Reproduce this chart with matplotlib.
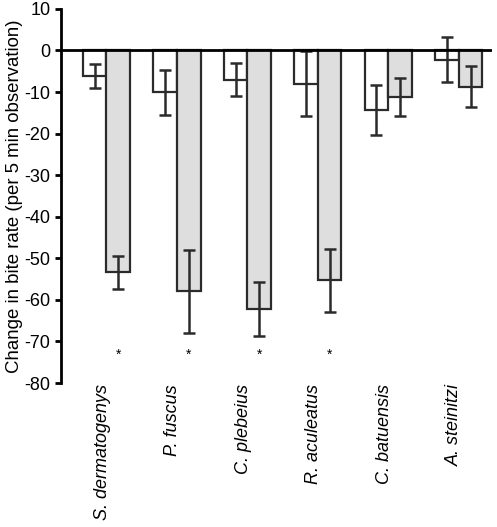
import matplotlib
matplotlib.use("Agg")
import matplotlib.pyplot as plt
import numpy as np

species = ["S. dermatogenys", "P. fuscus", "C. plebeius", "R. aculeatus", "C. batuensis", "A. steinitzi"]
white_vals = [-6.2, -10.1, -7.0, -8.0, -14.4, -2.2]
white_err = [2.9, 5.4, 4.0, 7.8, 6.0, 5.4]
gray_vals = [-53.4, -57.9, -62.1, -55.3, -11.2, -8.7]
gray_err = [4.0, 10.0, 6.5, 7.5, 4.6, 5.0]
signif = [True, True, True, True, False, False]
yticks = list(range(-80, 11, 10))

plt.rcParams['font.family'] = ['Liberation Sans', 'DejaVu Sans']

fig = plt.figure(figsize=(4.97, 5.27), dpi=100)
ax = fig.add_axes([0.1227, 0.2732, 0.867, 0.71])

x = np.arange(len(species))
w = 0.335
edge = '#2b2b2b'
ax.bar(x - w/2, white_vals, w, color='white', edgecolor=edge, linewidth=1.6, zorder=2)
ax.bar(x + w/2, gray_vals, w, color='#dedede', edgecolor=edge, linewidth=1.6, zorder=2)
ax.errorbar(x - w/2, white_vals, yerr=white_err, fmt='none', ecolor=edge, elinewidth=1.8, capsize=4, capthick=1.8, zorder=3)
ax.errorbar(x + w/2, gray_vals, yerr=gray_err, fmt='none', ecolor=edge, elinewidth=1.8, capsize=4, capthick=1.8, zorder=3)
ax.axhline(0, color='black', linewidth=2, zorder=4)

for xi, s in zip(x, signif):
    if s:
        ax.text(xi + w/2, -73.2, '*', ha='center', va='center', fontsize=10)

ax.set_ylim(-80, 10)
ax.set_xlim(-0.645, 5.47)
ax.set_yticks(yticks)
ax.set_yticklabels([str(t) for t in yticks], fontsize=13)
ax.set_xticks([])
for side in ['top', 'right', 'bottom']:
    ax.spines[side].set_visible(False)
ax.spines['left'].set_linewidth(2)
ax.tick_params(axis='y', width=2, length=4, direction='out', pad=3.5)
ax.set_ylabel('Change in bite rate (per 5 min observation)', fontsize=13.4, labelpad=1)

for xi, name in zip(x, species):
    ax.text(xi - 0.06, -80.3, name, rotation=90, ha='center', va='top', fontsize=13, style='italic')

fig.savefig('out.png', dpi=100)
